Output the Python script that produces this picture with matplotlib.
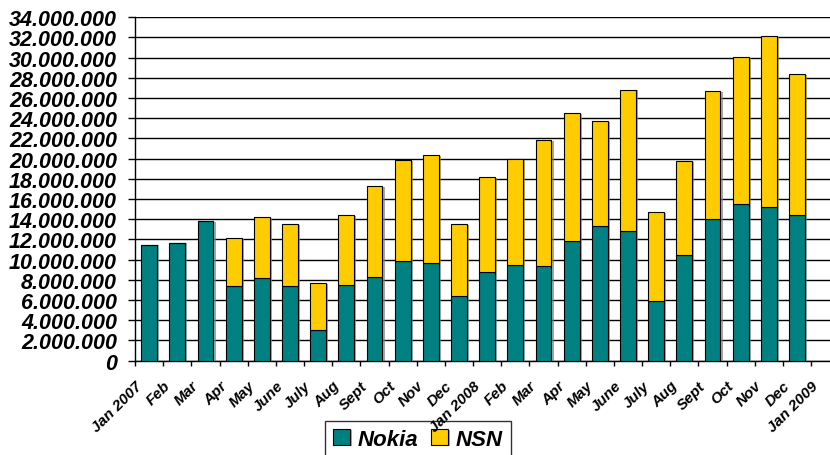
import numpy as np
import matplotlib.pyplot as plt
import matplotlib.patheffects as pe
from matplotlib.ticker import FuncFormatter

plt.rcParams['font.family'] = ['Liberation Sans', 'DejaVu Sans']
plt.rcParams['font.weight'] = 'bold'
plt.rcParams['font.style'] = 'italic'

# tick labels sit on the category boundaries (25 labels, 24 bars)
labels = ["Jan 2007", "Feb", "Mar", "Apr", "May", "June", "July", "Aug", "Sept",
          "Oct", "Nov", "Dec", "Jan 2008", "Feb", "Mar", "Apr", "May", "June",
          "July", "Aug", "Sept", "Oct", "Nov", "Dec", "Jan 2009"]

nokia = [11.5, 11.7, 13.8, 7.35, 8.15, 7.35, 3.05, 7.45, 8.25, 9.85, 9.65, 6.45,
         8.75, 9.45, 9.35, 11.9, 13.3, 12.8, 5.95, 10.5, 14.0, 15.5, 15.2, 14.4]
total = [11.5, 11.7, 13.8, 12.1, 14.2, 13.5, 7.65, 14.4, 17.25, 19.85, 20.35, 13.5,
         18.15, 19.95, 21.85, 24.5, 23.7, 26.85, 14.7, 19.75, 26.7, 30.05, 32.1, 28.35]

nokia = np.array(nokia) * 1e6
nsn = np.array(total) * 1e6 - nokia

fig = plt.figure(figsize=(8.3, 4.56), dpi=100)
ax = fig.add_axes([0.1627, 0.2068, 0.8373, 0.7531])

x = np.arange(len(nokia)) + 0.5
shadow = [pe.SimplePatchShadow(offset=(1.6, -0.6), shadow_rgbFace='#808080', alpha=0.7), pe.Normal()]
b1 = ax.bar(x, nokia, width=0.56, color='#008080', edgecolor='black', linewidth=0.8,
            label='Nokia', zorder=3)
b2 = ax.bar(x, nsn, bottom=nokia, width=0.56, color='#FFCC00', edgecolor='black',
            linewidth=0.8, label='NSN', zorder=3)
for p in list(b1) + list(b2):
    p.set_path_effects(shadow)

ax.set_ylim(0, 34e6)
ax.set_xlim(0, 24.67)
ax.set_yticks(np.arange(0, 34e6 + 1, 2e6))
ax.yaxis.set_major_formatter(FuncFormatter(lambda v, p: f"{v:,.0f}".replace(',', '.')))
ax.grid(axis='y', color='black', linewidth=1.0, zorder=0)
ax.set_axisbelow(True)

ax.set_xticks(np.arange(len(labels)))
ax.set_xticklabels(labels, rotation=45, ha='right', va='top', rotation_mode='anchor')
ax.tick_params(axis='x', length=3.6, width=1, pad=9, labelsize=11)
ax.tick_params(axis='y', length=5, width=1, pad=8, labelsize=15.5)

for s in ['top', 'right']:
    ax.spines[s].set_visible(False)
ax.spines['left'].set_linewidth(1)
ax.spines['bottom'].set_linewidth(1)

leg = fig.legend(handles=[b1, b2], loc='upper center', bbox_to_anchor=(418 / 830, 1 - 422 / 456),
                 ncol=2, fontsize=16, frameon=True, fancybox=False, edgecolor='black',
                 handlelength=0.75, handleheight=0.75, handletextpad=0.35, columnspacing=0.6,
                 borderpad=0.35, borderaxespad=0)
leg.get_frame().set_linewidth(1)
leg.set_zorder(-1)  # the "Jan 2008" label is drawn over the legend box

fig.savefig('out.png', dpi=100)
